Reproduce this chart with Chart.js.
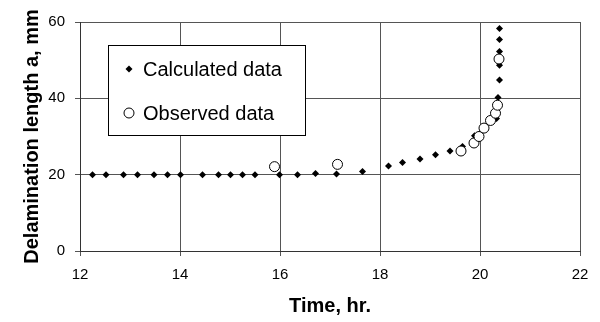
<!DOCTYPE html>
<html>
<head>
<meta charset="utf-8">
<script src="https://cdn.jsdelivr.net/npm/chart.js@4.4.1/dist/chart.umd.min.js"></script>
<style>
  html, body { margin: 0; padding: 0; background: #fff; }
  #wrap { width: 600px; height: 322px; position: relative; }
</style>
</head>
<body>
<div id="wrap"><canvas id="c" width="600" height="322"></canvas></div>
<script>
// Calculated data (time in hr, delamination length in mm)
const calcTime = [12.25, 12.52, 12.87, 13.15, 13.48, 13.75, 14.01, 14.45, 14.77, 15.01, 15.25, 15.5, 15.99, 16.35, 16.71, 17.13, 17.65, 18.17, 18.45, 18.8, 19.11, 19.4, 19.65, 19.89, 20.09, 20.33, 20.36, 20.39, 20.39, 20.39, 20.39, 20.39];
const calcLength = [20, 20, 20, 20, 20, 20, 20, 20, 20, 20, 20, 20, 20, 20, 20.3, 20.2, 20.8, 22.3, 23.2, 24.1, 25.2, 26.2, 27.4, 30.2, 32.4, 34.7, 40.2, 44.8, 48.7, 52.3, 55.4, 58.3];
// Observed data
const obsTime = [15.89, 17.15, 19.62, 19.88, 19.98, 20.08, 20.21, 20.31, 20.35, 20.38];
const obsLength = [22.1, 22.7, 26.2, 28.3, 30.0, 32.2, 34.2, 36.1, 38.2, 50.3];
// Axis ticks
const xTicks = [12, 14, 16, 18, 20, 22];
const yTicks = [0, 20, 40, 60];
const seriesNames = ['Calculated data', 'Observed data'];
const xTitle = 'Time, hr.';
const yTitle = 'Delamination length a, mm';

const FONT = "'Liberation Sans', Arial, sans-serif";

const legendBox = {
  id: 'legendBox',
  afterDatasetsDraw(chart) {
    const ctx = chart.ctx;
    ctx.save();
    const x0 = 108.5, y0 = 45.5, w = 197, h = 90;
    ctx.fillStyle = '#fff';
    ctx.fillRect(x0, y0, w, h);
    ctx.strokeStyle = '#000';
    ctx.lineWidth = 1;
    ctx.strokeRect(x0, y0, w, h);
    const mx = 129, my1 = 69, my2 = 113;
    ctx.fillStyle = '#000';
    ctx.beginPath();
    ctx.moveTo(mx, my1 - 3.5); ctx.lineTo(mx + 3.5, my1); ctx.lineTo(mx, my1 + 3.5); ctx.lineTo(mx - 3.5, my1);
    ctx.closePath(); ctx.fill();
    ctx.beginPath();
    ctx.arc(mx, my2, 5, 0, Math.PI * 2);
    ctx.fillStyle = '#fff'; ctx.fill();
    ctx.strokeStyle = '#000'; ctx.stroke();
    ctx.fillStyle = '#000';
    ctx.font = '20px ' + FONT;
    ctx.textAlign = 'left';
    ctx.textBaseline = 'middle';
    ctx.fillText(seriesNames[0], 143, my1 + 1);
    ctx.fillText(seriesNames[1], 143, my2 + 1);
    ctx.restore();
  }
};

new Chart(document.getElementById('c'), {
  type: 'scatter',
  data: {
    datasets: [
      {
        label: seriesNames[1],
        data: obsTime.map((t, i) => ({x: t, y: obsLength[i]})),
        pointStyle: 'circle',
        pointRadius: 5,
        pointBorderWidth: 1,
        borderColor: '#000',
        backgroundColor: '#fff',
        order: 0
      },
      {
        label: seriesNames[0],
        data: calcTime.map((t, i) => ({x: t, y: calcLength[i]})),
        pointStyle: 'rectRot',
        pointRadius: 3.5,
        pointBorderWidth: 0,
        borderColor: '#000',
        backgroundColor: '#000',
        order: 1
      }
    ]
  },
  options: {
    responsive: false,
    animation: false,
    devicePixelRatio: 1,
    layout: { padding: { left: 0, right: 20, top: 22, bottom: 0 } },
    plugins: { legend: { display: false }, tooltip: { enabled: false } },
    scales: {
      x: {
        type: 'linear',
        min: 12, max: 22,
        afterBuildTicks(s) { s.ticks = xTicks.map(v => ({value: v})); },
        afterFit(s) { s.height = 71; },
        grid: { color: '#555', lineWidth: 1, tickLength: 5, drawTicks: true },
        border: { color: '#333', width: 1 },
        ticks: { color: '#000', font: { family: FONT, size: 15 }, padding: 10, maxRotation: 0 },
        title: { display: true, text: xTitle, color: '#000', font: { family: FONT, size: 20, weight: 'bold' }, padding: { top: 0, bottom: 4 } }
      },
      y: {
        type: 'linear',
        min: 0, max: 60,
        afterBuildTicks(s) { s.ticks = yTicks.map(v => ({value: v})); },
        afterFit(s) { s.width = 80; },
        grid: { color: '#555', lineWidth: 1, tickLength: 5, drawTicks: true },
        border: { color: '#333', width: 1 },
        ticks: { color: '#000', font: { family: FONT, size: 15 }, padding: 10 },
        title: { display: true, text: yTitle, color: '#000', font: { family: FONT, size: 20, weight: 'bold' }, padding: { top: 20, bottom: 0 } }
      }
    }
  },
  plugins: [legendBox]
});
</script>
</body>
</html>
